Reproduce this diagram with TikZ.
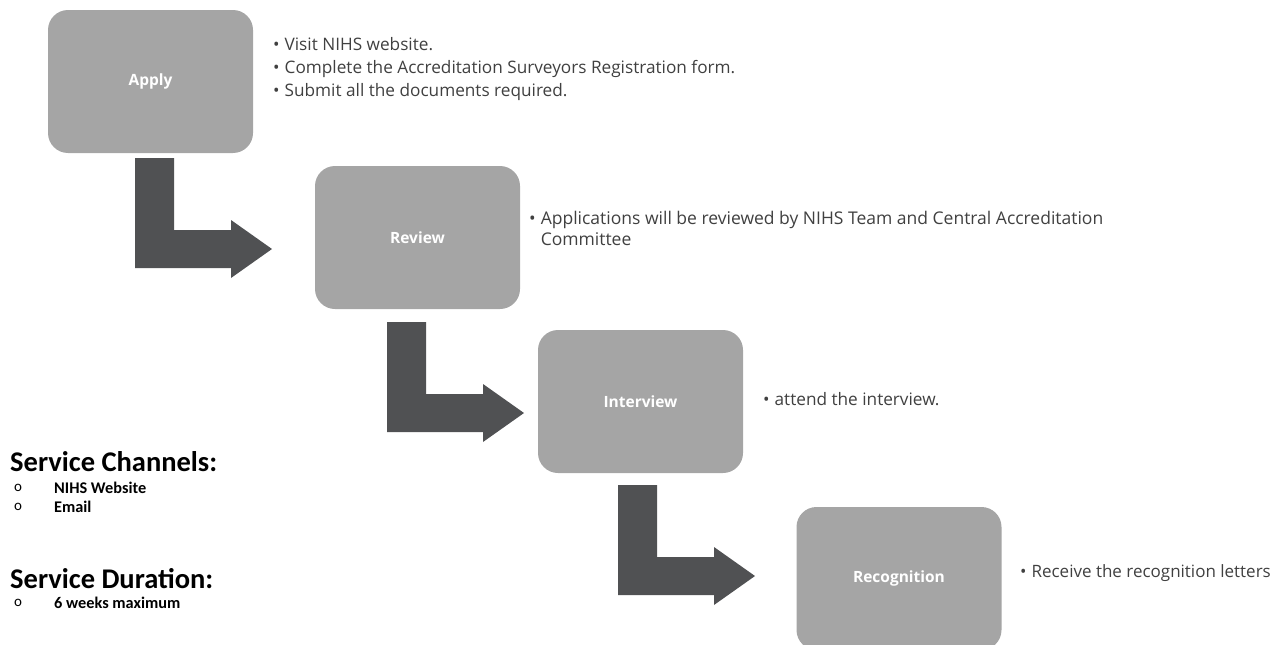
\documentclass[tikz,border=0pt]{standalone}
\usepackage{fontspec}
\setmainfont{Open Sans}
\newfontfamily\calfont{Carlito}
\definecolor{boxgray}{HTML}{A5A5A5}
\definecolor{arrowgray}{HTML}{505153}
\definecolor{txtgray}{HTML}{404040}
\tikzset{
  stepbox/.style={fill=boxgray, draw=none, rounded corners=20pt, minimum width=205pt, minimum height=143pt, inner sep=0pt, text=white, font=\fontsize{15.5}{18}\selectfont\bfseries},
  bullettext/.style={anchor=west, inner sep=0pt, text=txtgray, font=\fontsize{17.2}{23}\selectfont},
  headtext/.style={anchor=west, inner sep=0pt, text=black, font=\calfont\fontsize{28.5}{30}\selectfont\bfseries},
  itemtext/.style={anchor=west, inner sep=0pt, text=black, font=\calfont\fontsize{16.3}{20}\selectfont\bfseries},
  markertext/.style={anchor=west, inner sep=0pt, text=black, font=\calfont\fontsize{15}{20}\selectfont},
  bentarrow/.pic={\fill[arrowgray] (0,0) -- (39,0) -- (39,72) -- (96,72) -- (96,62) -- (137,91) -- (96,120) -- (96,110) -- (0,110) -- cycle;}
}
\begin{document}
\begin{tikzpicture}[x=1pt,y=-1pt]
\useasboundingbox (0,0) rectangle (1280,645);
% step boxes
\node[stepbox] (apply) at (150.5,81.5) {Apply};
\node[stepbox] (review) at (417.5,237.5) {Review};
\node[stepbox] (interview) at (640.5,401.5) {Interview};
\node[stepbox] (recog) at (899,578.5) {Recognition};
% bent arrows
\coordinate (a1) at (135,158);
\coordinate (a2) at (387,322);
\coordinate (a3) at (618,485);
\pic at (a1) {bentarrow};
\pic at (a2) {bentarrow};
\pic at (a3) {bentarrow};
% bullet texts
\node[bullettext] (applytxt) at (273,69) {\begin{tabular}{@{}l@{\hspace{5pt}}l@{}}\textbullet & Visit NIHS website.\\ \textbullet & Complete the Accreditation Surveyors Registration form.\\ \textbullet & Submit all the documents required.\end{tabular}};
\node[bullettext, font=\fontsize{17.5}{20.5}\selectfont] (reviewtxt) at (529,231) {\begin{tabular}{@{}l@{\hspace{5pt}}l@{}}\textbullet & Applications will be reviewed by NIHS Team and Central Accreditation\\ & Committee\end{tabular}};
\node[bullettext] (interviewtxt) at (763,401) {\begin{tabular}{@{}l@{\hspace{5pt}}l@{}}\textbullet & attend the interview.\end{tabular}};
\node[bullettext, font=\fontsize{17}{23}\selectfont] (recogtxt) at (1020,573) {\begin{tabular}{@{}l@{\hspace{5pt}}l@{}}\textbullet & Receive the recognition letters\end{tabular}};
% left side text
\node[headtext] (chan) at (10,462) {Service Channels:};
\node[markertext] (ch1) at (14,488) {o};
\node[itemtext] (ch1t) at (54,488) {NIHS Website};
\node[markertext] (ch2) at (14,507) {o};
\node[itemtext] (ch2t) at (54,507) {Email};
\node[headtext] (dur) at (10,579) {Service Duration:};
\node[markertext] (d1) at (14,603) {o};
\node[itemtext] (d1t) at (54,603) {6 weeks maximum};
\end{tikzpicture}
\end{document}
